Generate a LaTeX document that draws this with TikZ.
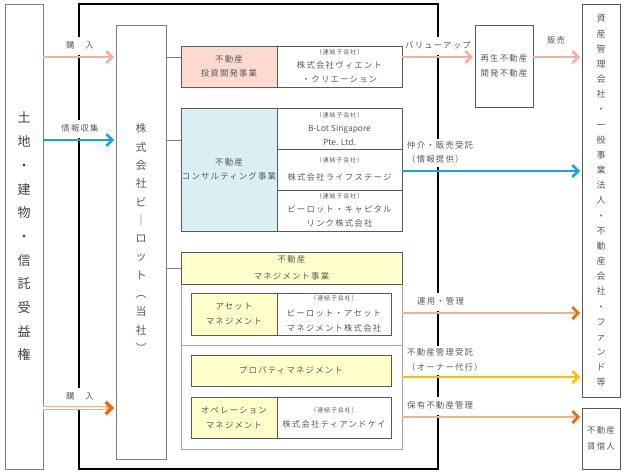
\documentclass[tikz,border=0pt]{standalone}
\usepackage{fontspec}
\setmainfont{Noto Sans CJK JP}[LetterSpace=14]
\newfontfamily\latf{Noto Sans CJK JP}
\usetikzlibrary{arrows.meta}
\definecolor{txt}{HTML}{595959}
\definecolor{txtd}{HTML}{404040}
\definecolor{bord}{HTML}{595959}
\definecolor{lgr}{HTML}{A6A6A6}
\definecolor{conc}{HTML}{7F7F7F}
\definecolor{pinkA}{HTML}{F6AE9E}
\definecolor{pinkF}{HTML}{FCDAD0}
\definecolor{blueA}{HTML}{12A5E3}
\definecolor{blueF}{HTML}{DAEEF3}
\definecolor{yelF}{HTML}{FFFFCC}
\definecolor{orgL}{HTML}{F4B183}
\definecolor{orgD}{HTML}{E46C0A}
\definecolor{goldA}{HTML}{FFC000}
\newcommand\lblf{\fontsize{8.4}{14}\selectfont}
\newcommand\renk{{\fontsize{6}{14}\selectfont （連結子会社）}}
\begin{document}
\begin{tikzpicture}[x=1pt,y=-1pt,
  box/.style={draw=bord, line width=0.8pt, inner sep=0pt, text=txt, align=center, font=\lblf},
  conn/.style={draw=conc, line width=0.9pt},
  arr/.style={line width=2.6pt, -{Straight Barb[length=6pt,width=12pt]}, shorten >=1.5pt},
  arro/.style={arr, draw=orgL, -{Straight Barb[length=6pt,width=12pt,color=orgD]}},
  lab/.style={fill=white, text=txt, font=\lblf, inner sep=2pt, minimum height=18pt},
]
\useasboundingbox (0,0) rectangle (625,474);
% coordinates for arrow rows
\coordinate (ya) at (0,57);
\coordinate (yb) at (0,140);
\coordinate (yc) at (0,408);
\coordinate (yd) at (0,171);
\coordinate (ye) at (0,313);
\coordinate (yf) at (0,377);
\coordinate (yg) at (0,417);
\coordinate (yh) at (0,268);

% left box
\node[box, draw=conc, minimum width=38pt, minimum height=465pt, text=txtd,
      font=\fontsize{13}{23.7}\selectfont] (L) at (24,236.5)
  {土\\地\\・\\建\\物\\・\\信\\託\\受\\益\\権};

% frame
\draw[line width=1.3pt] (79,4) rectangle (438,469);

% company box
\node[box, draw=conc, minimum width=50pt, minimum height=434pt] (C) at (141,242) {};
\node[text=txt, align=center, font=\fontsize{11}{18.3}\selectfont] (Ct) at (141,238)
  {株\\式\\会\\社\\ビ\\｜\\ロ\\ッ\\ト\\︵\\当\\社\\︶};

% investment segment
\node[box, fill=pinkF, minimum width=96pt, minimum height=41pt] (inv) at (229,66.5)
  {不動産\\投資開発事業};
\node[box, minimum width=125pt, minimum height=41pt] (invS) at (339.5,66.5)
  {\renk\\株式会社ヴィエント\\・クリエーション};

% consulting segment
\node[box, fill=blueF, minimum width=96pt, minimum height=123pt] (con) at (229,169.5)
  {不動産\\コンサルティング事業};
\node[box, minimum width=125pt, minimum height=41pt] (conS1) at (339.5,128.5)
  {\renk\\{\latf B-Lot Singapore}\\{\latf Pte. Ltd.}};
\node[box, minimum width=125pt, minimum height=41pt] (conS2) at (339.5,169.5)
  {\renk\\[4pt]株式会社ライフステージ};
\node[box, minimum width=125pt, minimum height=41pt] (conS3) at (339.5,210.5)
  {\renk\\ビーロット・キャピタル\\リンク株式会社};

% management segment
\node[box, draw=lgr, minimum width=221pt, minimum height=197pt] (M) at (291.5,350.5) {};
\node[box, fill=yelF, minimum width=221pt, minimum height=32pt] (MH) at (291.5,268)
  {不動産\\[3pt]マネジメント事業};
\draw[draw=lgr, line width=0.8pt] (M.west |- 0,345) -- (M.east |- 0,345);
\node[box, fill=yelF, minimum width=86pt, minimum height=42pt, font=\fontsize{8.4}{15}\selectfont] (AM) at (234,314)
  {アセット\\マネジメント};
\node[box, minimum width=114pt, minimum height=42pt, font=\fontsize{8.4}{15.5}\selectfont] (AMS) at (334,314)
  {\renk\\ビーロット・アセット\\マネジメント株式会社};
\node[box, fill=yelF, minimum width=200pt, minimum height=31pt] (PM) at (291,370.5)
  {プロパティマネジメント};
\node[box, fill=yelF, minimum width=86pt, minimum height=41pt, font=\fontsize{8.4}{15}\selectfont] (OM) at (234,417.5)
  {オペレーション\\マネジメント};
\node[box, minimum width=114pt, minimum height=41pt, font=\fontsize{8.4}{15}\selectfont] (OMS) at (334,417.5)
  {\renk\\株式会社ティアンドケイ};

% right side boxes
\node[box, minimum width=58pt, minimum height=82pt, font=\fontsize{8.4}{15}\selectfont] (RG) at (504,66)
  {再生不動産\\開発不動産};
\node[box, minimum width=38pt, minimum height=393pt, font=\fontsize{9}{15.17}\selectfont] (R) at (601,200.5)
  {資\\産\\管\\理\\会\\社\\・\\一\\般\\事\\業\\法\\人\\・\\不\\動\\産\\会\\社\\・\\フ\\ァ\\ン\\ド\\等};
\node[box, minimum width=38pt, minimum height=61pt, font=\fontsize{8.4}{16}\selectfont] (T) at (601,438.5)
  {不動産\\賃借人};

% connectors company -> segments
\draw[conn] (C.east |- ya) -- (inv.west |- ya);
\draw[conn] (C.east |- yb) -- (con.west |- yb);
\draw[conn] (C.east |- yh) -- (MH.west |- yh);

% labels (white background breaks the frame)
\node[lab, anchor=south] (la) at (80,55) {購　入};
\node[lab, anchor=south] (lb) at (80,138) {情報収集};
\node[lab, anchor=south] (lc) at (80,406) {購　入};
\node[lab, anchor=south] (lva) at (438,55) {バリューアップ};
\node[text=txt, font=\lblf] (lsale) at (556,40) {販売};
\node[lab, anchor=south west, align=left, inner ysep=3pt] (lbk) at (405,167)
  {仲介・販売受託\\（情報提供）};
\node[lab, anchor=south west] (lun) at (415,311) {運用・管理};
\node[lab, anchor=south west, align=left, inner ysep=3pt, font=\fontsize{8.4}{15}\selectfont] (lpm) at (405,375)
  {不動産管理受託\\（オーナー代行）};
\node[lab, anchor=south west] (lho) at (405,415) {保有不動産管理};

% arrows left
\draw[arr, draw=pinkA, color=pinkA] (L.east |- ya) -- (C.west |- ya);
\draw[arr, draw=blueA, color=blueA] (L.east |- yb) -- (C.west |- yb);
\draw[arro, line width=3.4pt] (L.east |- yc) -- (C.west |- yc);
\draw[white, line width=1.1pt, shorten >=10pt] (L.east |- yc) -- (C.west |- yc);

% arrows right
\draw[arr, draw=pinkA, color=pinkA] (invS.east |- ya) -- (RG.west |- ya);
\draw[arr, draw=pinkA, color=pinkA] (RG.east |- ya) -- (R.west |- ya);
\draw[arr, draw=blueA, color=blueA] (conS2.east |- yd) -- (R.west |- yd);
\draw[arro] (M.east |- ye) -- (R.west |- ye);
\draw[arr, draw=goldA, color=goldA] (M.east |- yf) -- (R.west |- yf);
\draw[arro] (M.east |- yg) -- (T.west |- yg);
\end{tikzpicture}
\end{document}
